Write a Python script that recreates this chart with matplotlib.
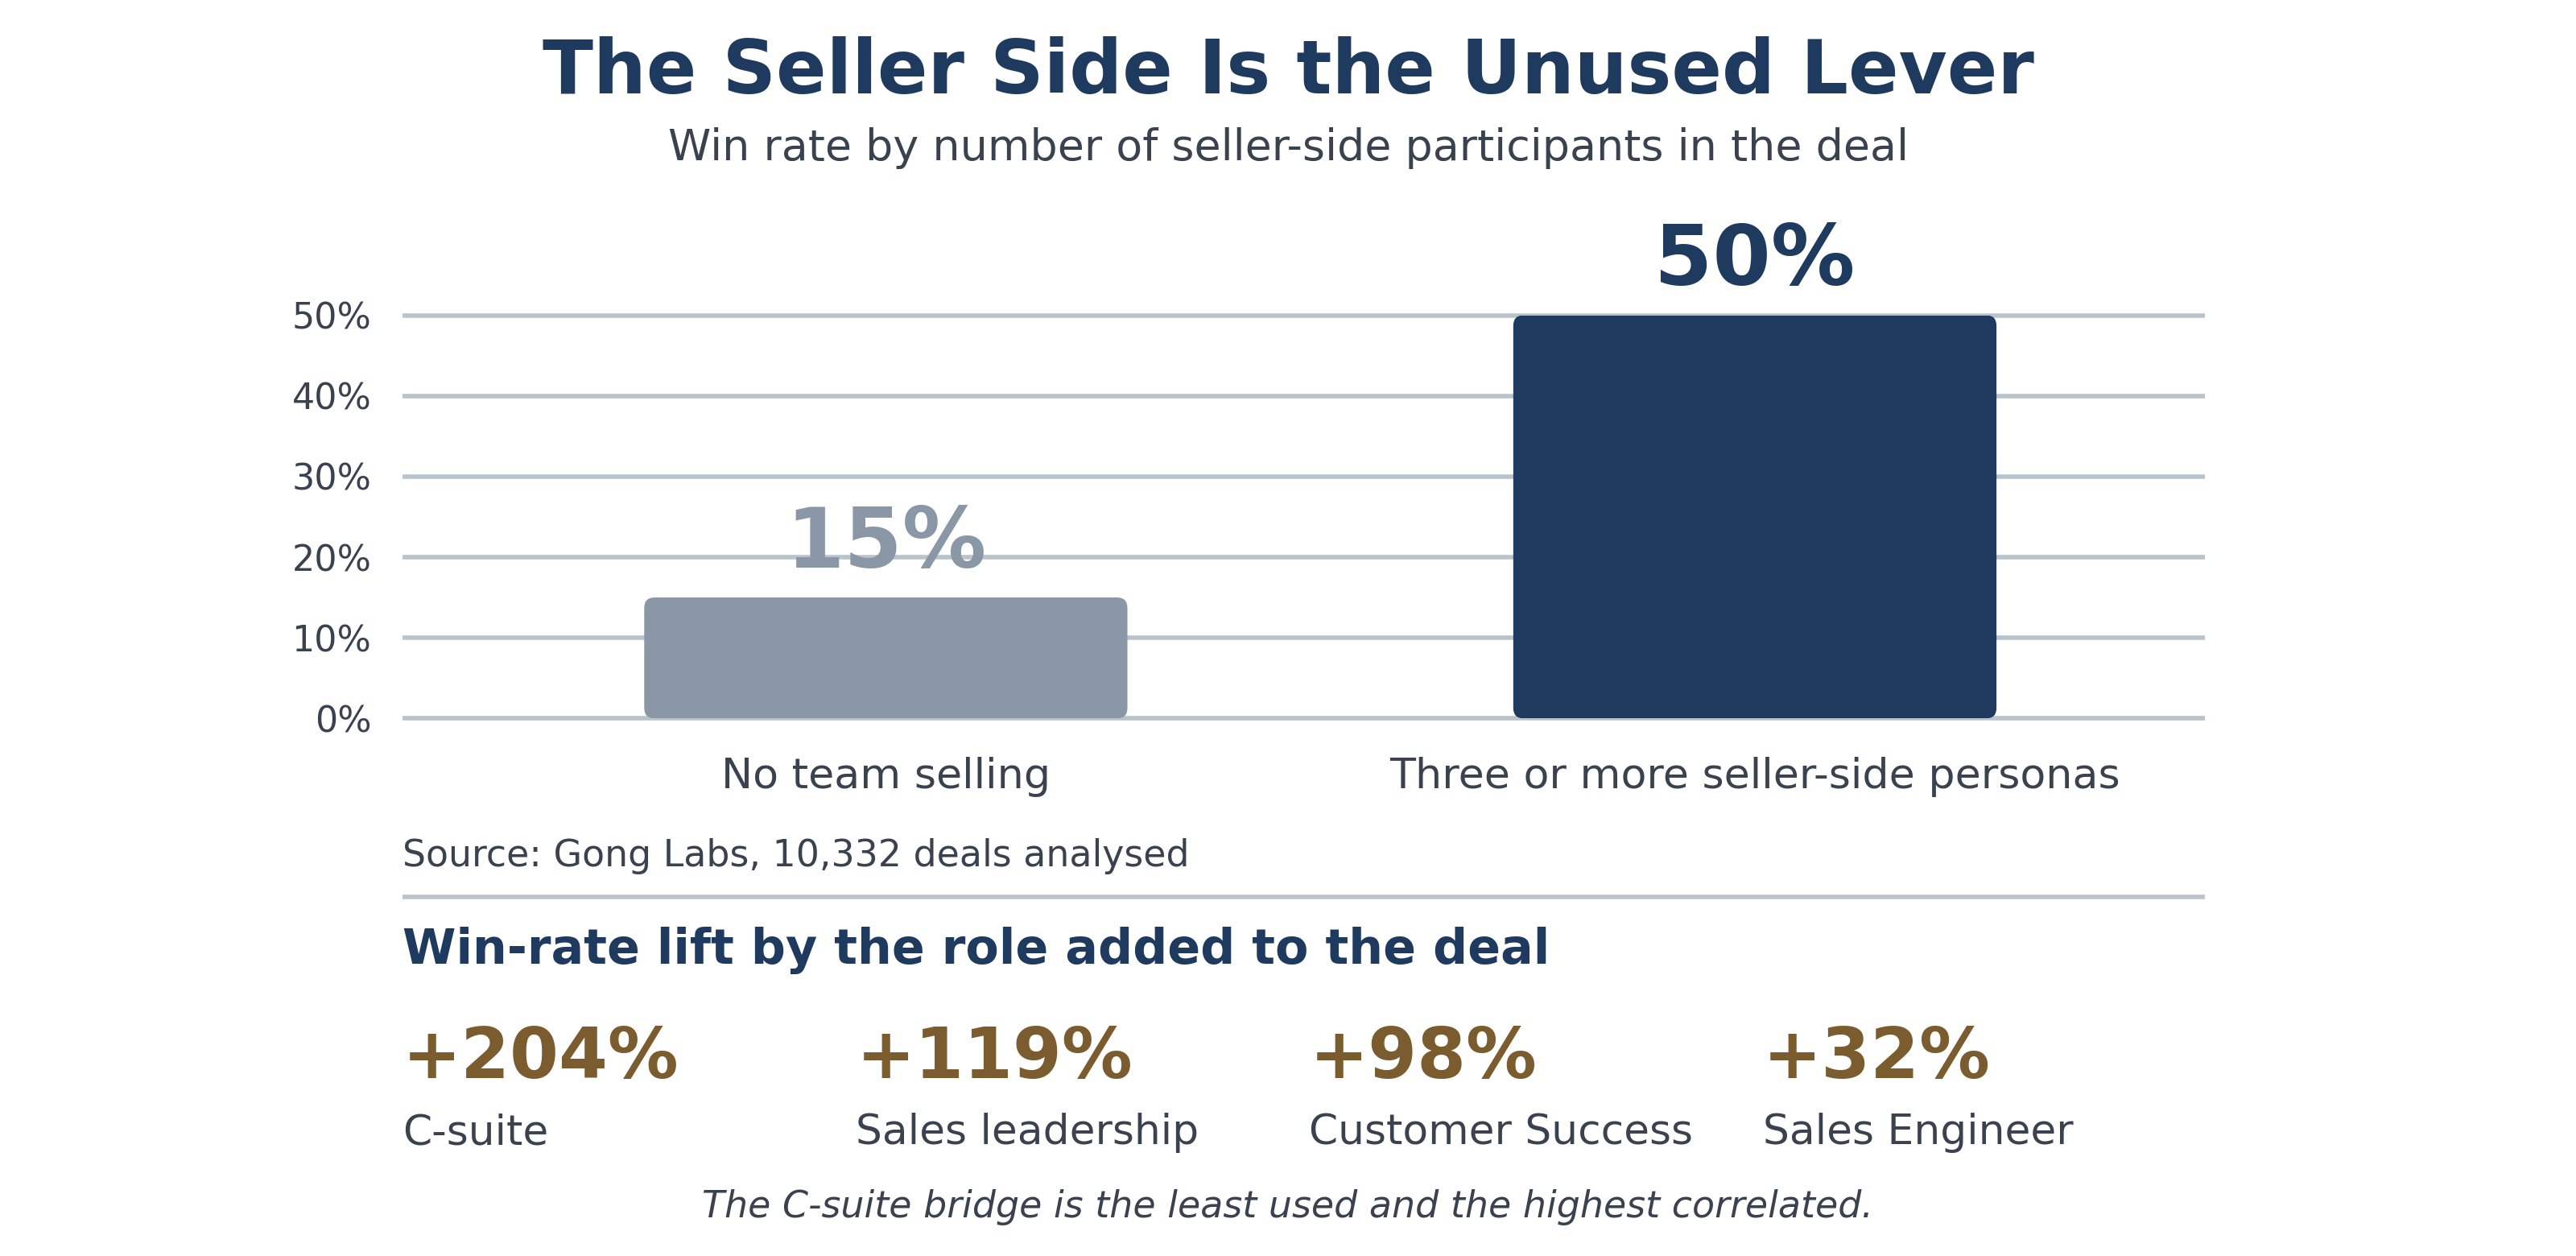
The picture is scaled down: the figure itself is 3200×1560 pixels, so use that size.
import numpy as np
import matplotlib.pyplot as plt
from matplotlib.patches import FancyBboxPatch

# datos
categorias = ['No team selling', 'Three or more seller-side personas']
win_rate = [15, 50]
colores_barra = ['#8a97a6', '#1f3a5f']
yticks = [0, 10, 20, 30, 40, 50]

lift = [204, 119, 98, 32]
roles = ['C-suite', 'Sales leadership', 'Customer Success', 'Sales Engineer']

NAVY = '#1f3a5f'
TEXTO = '#3a4250'
GRID = '#b8c3ce'
ORO = '#7a5c2e'

fig = plt.figure(figsize=(16, 7.8), dpi=200)
ax = fig.add_axes([0.1563, 0.428, 0.6997, 0.321])

x = np.arange(len(categorias))
ax.set_xlim(-0.556, 1.518)
ax.set_ylim(0, 50)

bars = ax.bar(x, win_rate, width=0.556, color=colores_barra)

# esquinas redondeadas: se reemplazan las barras por FancyBboxPatch
p0 = ax.transData.transform((0, 0))
p1 = ax.transData.transform((1, 1))
px_x = p1[0] - p0[0]
px_y = p1[1] - p0[1]
radio = 13
for b in bars:
    b.set_visible(False)
    caja = FancyBboxPatch((b.get_x(), b.get_y()), b.get_width(), b.get_height(),
                          boxstyle='round,pad=0,rounding_size=%f' % (radio / px_x),
                          mutation_aspect=px_x / px_y,
                          facecolor=b.get_facecolor(), edgecolor='none', zorder=3)
    ax.add_patch(caja)

for xi, v, c in zip(x, win_rate, colores_barra):
    ax.annotate('%d%%' % v, (xi, v), xytext=(0, 5.5), textcoords='offset points',
                ha='center', va='bottom', fontsize=37.5, fontweight='bold', color=c)

ax.set_yticks(yticks)
ax.set_yticklabels(['%d%%' % t for t in yticks])
ax.set_xticks(x)
ax.set_xticklabels(categorias)
ax.tick_params(axis='y', length=0, pad=14, labelsize=16, labelcolor=TEXTO)
ax.tick_params(axis='x', length=0, pad=17, labelsize=18.8, labelcolor=TEXTO)
ax.grid(axis='y', color=GRID, linewidth=2, zorder=0)
ax.set_axisbelow(True)
for g in ax.get_ygridlines():
    g.set_clip_on(False)
    g.set_solid_capstyle('butt')
for s in ax.spines.values():
    s.set_visible(False)

# titulos
fig.text(0.5, 0.942, 'The Seller Side Is the Unused Lever', ha='center', va='center',
         fontsize=33.2, fontweight='bold', color=NAVY)
fig.text(0.5, 0.882, 'Win rate by number of seller-side participants in the deal',
         ha='center', va='center', fontsize=19.4, color=TEXTO)

izq = 0.1563
der = 0.856
fig.text(izq, 0.318, 'Source: Gong Labs, 10,332 deals analysed', ha='left', va='center',
         fontsize=16.5, color=TEXTO)
fig.add_artist(plt.Line2D([izq, der], [0.286, 0.286], color=GRID, linewidth=2,
                          solid_capstyle='butt', transform=fig.transFigure))
fig.text(izq, 0.243, 'Win-rate lift by the role added to the deal', ha='left', va='center',
         fontsize=21.7, fontweight='bold', color=NAVY)

ancho = (der - izq) / 4
for i, (l, r) in enumerate(zip(lift, roles)):
    xx = izq + i * ancho * 1.006
    fig.text(xx, 0.157, '+%d%%' % l, ha='left', va='center', fontsize=31.5,
             fontweight='bold', color=ORO)
    fig.text(xx, 0.098, r, ha='left', va='center', fontsize=18.7, color=TEXTO)

fig.text(0.5, 0.039, 'The C-suite bridge is the least used and the highest correlated.',
         ha='center', va='center', fontsize=16.5, style='italic', color=TEXTO)

fig.savefig('out.png', dpi=200)
